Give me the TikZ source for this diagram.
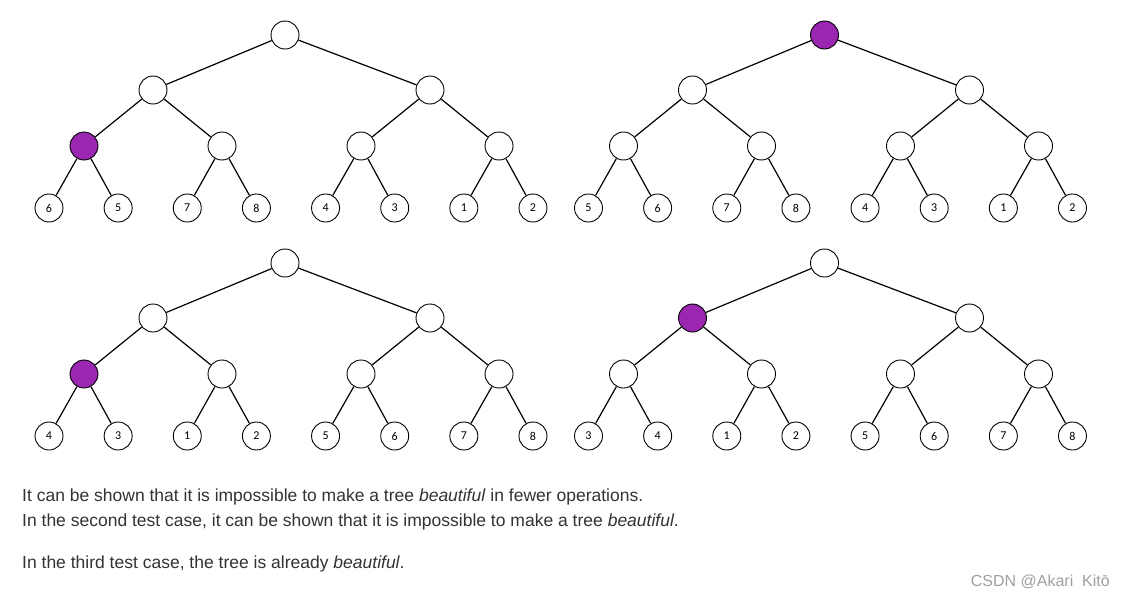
\documentclass[tikz,border=0pt]{standalone}
\usepackage{fontspec}
\setmainfont{Liberation Sans}
\newfontfamily\leaffont{Carlito}
\definecolor{purp}{RGB}{155,38,175}
\definecolor{txt}{RGB}{51,51,51}
\definecolor{wm}{RGB}{160,160,160}
\tikzset{
  nd/.style={circle,draw=black,line width=0.9pt,minimum size=28pt,inner sep=0pt,fill=white},
  lf/.style={nd,font=\leaffont\fontsize{12}{12}\selectfont},
  edge/.style={line width=1.2pt,black},
  selr/.style={},sela/.style={},selb/.style={},
  selc/.style={},seld/.style={},sele/.style={},self/.style={},
  para/.style={anchor=base west,text=txt,font=\fontsize{17.5}{20}\selectfont,inner sep=0pt}
}
\newcommand\mytree[5]{%
  \begin{scope}[shift={(#2,#3)}]
    \tikzset{sel#4/.style={fill=purp}}
    \node[nd,selr] (#1r) at (285,35) {};
    \node[nd,sela] (#1a) at (153,90) {};
    \node[nd,selb] (#1b) at (430,90) {};
    \node[nd,selc] (#1c) at (84,146) {};
    \node[nd,seld] (#1d) at (222,146) {};
    \node[nd,sele] (#1e) at (361,146) {};
    \node[nd,self] (#1f) at (499,146) {};
    \draw[edge] (#1r) -- (#1a);
    \draw[edge] (#1r) -- (#1b);
    \draw[edge] (#1a) -- (#1c);
    \draw[edge] (#1a) -- (#1d);
    \draw[edge] (#1b) -- (#1e);
    \draw[edge] (#1b) -- (#1f);
    \foreach \l/\pn [count=\i] in {#5} {
      \pgfmathsetmacro\xx{49+69.14*(\i-1)}
      \node[lf] (#1l\i) at (\xx,208) {\l};
      \draw[edge] (#1\pn) -- (#1l\i);
    }
  \end{scope}
}
\begin{document}
\begin{tikzpicture}[x=1pt,y=-1pt]
  \useasboundingbox (0,0) rectangle (1122,597);
  \fill[white] (0,0) rectangle (1122,597);
  \mytree{A}{0}{0}{c}{6/c,5/c,7/d,8/d,4/e,3/e,1/f,2/f}
  \mytree{B}{539.5}{0}{r}{5/c,6/c,7/d,8/d,4/e,3/e,1/f,2/f}
  \mytree{C}{0}{228}{c}{4/c,3/c,1/d,2/d,5/e,6/e,7/f,8/f}
  \mytree{D}{539.5}{228}{a}{3/c,4/c,1/d,2/d,5/e,6/e,7/f,8/f}
  \node[para] (t1) at (22,501) {It can be shown that it is impossible to make a tree \textit{beautiful} in fewer operations.};
  \node[para] (t2) at (22,526) {In the second test case, it can be shown that it is impossible to make a tree \textit{beautiful}.};
  \node[para] (t3) at (22,568) {In the third test case, the tree is already \textit{beautiful}.};
  \node[anchor=base east,text=wm,font=\fontsize{16}{18}\selectfont,inner sep=0pt] (wm) at (1110,586) {CSDN @Akari\ \ Kitō};
\end{tikzpicture}
\end{document}
